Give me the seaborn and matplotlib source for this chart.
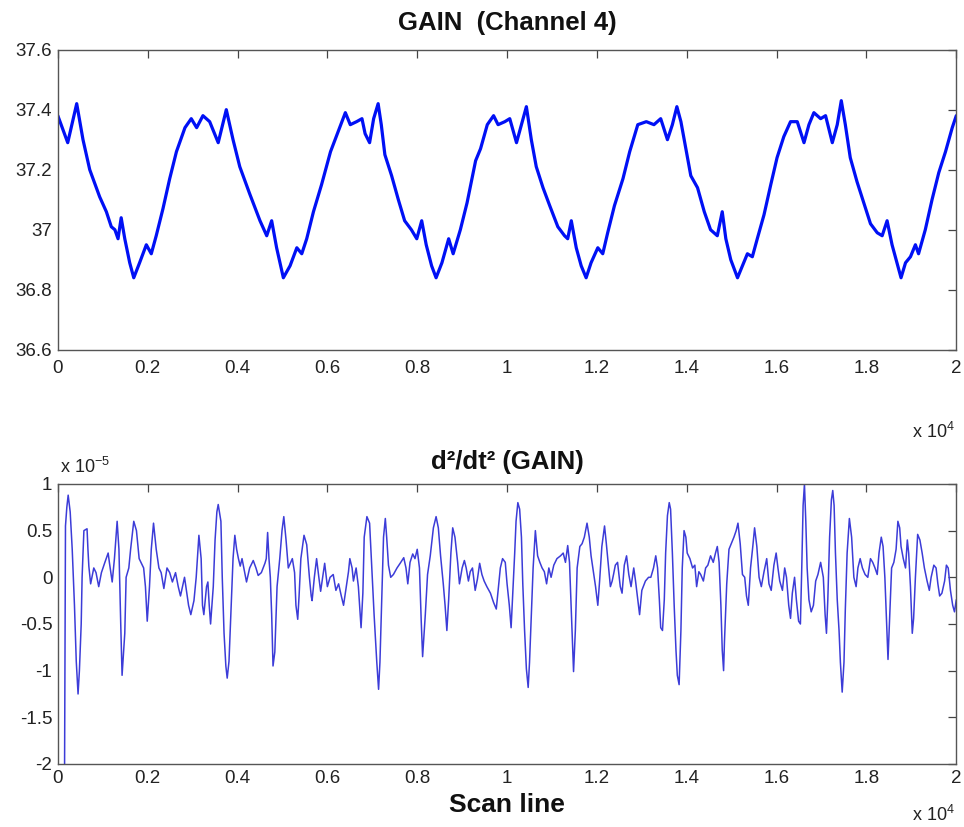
import matplotlib
matplotlib.use("Agg")
import matplotlib.pyplot as plt
import seaborn as sns
import pandas as pd

# ---------------- data (x in units of 10^4 scan lines) ----------------
gain_x = [
    0.000, 0.022, 0.042, 0.056, 0.071, 0.093, 0.108, 0.119, 0.127, 0.134,
    0.141, 0.149, 0.160, 0.169, 0.182, 0.197, 0.208, 0.219, 0.234, 0.249,
    0.264, 0.283, 0.297, 0.309, 0.323, 0.338, 0.357, 0.375, 0.390, 0.405,
    0.427, 0.450, 0.465, 0.476, 0.487, 0.502, 0.517, 0.532, 0.543, 0.554,
    0.569, 0.587, 0.607, 0.630, 0.640, 0.651, 0.665, 0.677, 0.684, 0.694,
    0.703, 0.713, 0.720, 0.728, 0.743, 0.758, 0.772, 0.787, 0.799, 0.810,
    0.820, 0.832, 0.842, 0.855, 0.870, 0.880, 0.896, 0.911, 0.930, 0.941,
    0.956, 0.970, 0.980, 0.995, 1.006, 1.021, 1.032, 1.043, 1.054, 1.065,
    1.080, 1.095, 1.113, 1.128, 1.135, 1.143, 1.154, 1.165, 1.176, 1.187,
    1.202, 1.213, 1.224, 1.239, 1.258, 1.273, 1.291, 1.310, 1.327, 1.342,
    1.357, 1.368, 1.378, 1.387, 1.398, 1.409, 1.424, 1.439, 1.453, 1.468,
    1.479, 1.487, 1.498, 1.513, 1.524, 1.535, 1.546, 1.557, 1.572, 1.587,
    1.601, 1.616, 1.631, 1.646, 1.661, 1.672, 1.683, 1.698, 1.709, 1.724,
    1.735, 1.744, 1.753, 1.764, 1.779, 1.794, 1.809, 1.824, 1.835, 1.846,
    1.857, 1.868, 1.877, 1.887, 1.898, 1.909, 1.916, 1.931, 1.946, 1.961,
    1.976, 1.991, 2.000,
]
gain_y = [
    37.38, 37.29, 37.42, 37.30, 37.20, 37.11, 37.06, 37.01, 37.00, 36.97,
    37.04, 36.97, 36.89, 36.84, 36.89, 36.95, 36.92, 36.98, 37.07, 37.17,
    37.26, 37.34, 37.37, 37.34, 37.38, 37.36, 37.29, 37.40, 37.30, 37.21,
    37.12, 37.03, 36.98, 37.03, 36.94, 36.84, 36.88, 36.94, 36.92, 36.97,
    37.06, 37.15, 37.26, 37.35, 37.39, 37.35, 37.36, 37.37, 37.32, 37.29,
    37.37, 37.42, 37.35, 37.25, 37.18, 37.10, 37.03, 37.00, 36.97, 37.03,
    36.95, 36.88, 36.84, 36.89, 36.97, 36.92, 37.00, 37.09, 37.23, 37.27,
    37.35, 37.38, 37.35, 37.36, 37.37, 37.29, 37.35, 37.41, 37.30, 37.21,
    37.14, 37.08, 37.01, 36.98, 36.97, 37.03, 36.94, 36.88, 36.84, 36.89,
    36.94, 36.92, 36.99, 37.08, 37.17, 37.26, 37.35, 37.36, 37.35, 37.37,
    37.30, 37.35, 37.41, 37.36, 37.27, 37.18, 37.14, 37.06, 37.00, 36.98,
    37.06, 36.97, 36.90, 36.84, 36.88, 36.92, 36.91, 36.97, 37.05, 37.15,
    37.24, 37.31, 37.36, 37.36, 37.29, 37.35, 37.39, 37.37, 37.38, 37.29,
    37.35, 37.43, 37.35, 37.24, 37.16, 37.09, 37.02, 36.99, 36.98, 37.03,
    36.95, 36.89, 36.84, 36.89, 36.91, 36.95, 36.92, 37.00, 37.10, 37.19,
    37.26, 37.34, 37.38,
]

# second derivative (units of 10^-5)
d2_x = [
    0.015, 0.017, 0.020, 0.023, 0.0275, 0.032, 0.037, 0.041, 0.045, 0.048,
    0.052, 0.054, 0.058, 0.065, 0.067, 0.069, 0.073, 0.080, 0.085, 0.091,
    0.097, 0.104, 0.112, 0.115, 0.121, 0.126, 0.132, 0.136, 0.140, 0.143,
    0.149, 0.152, 0.158, 0.162, 0.169, 0.175, 0.181, 0.186, 0.191, 0.195,
    0.199, 0.204, 0.208, 0.213, 0.219, 0.225, 0.230, 0.236, 0.243, 0.249,
    0.255, 0.262, 0.268, 0.273, 0.282, 0.291, 0.296, 0.303, 0.308, 0.314,
    0.319, 0.322, 0.325, 0.331, 0.334, 0.337, 0.340, 0.346, 0.350, 0.354,
    0.357, 0.363, 0.366, 0.370, 0.374, 0.377, 0.381, 0.386, 0.390, 0.394,
    0.398, 0.402, 0.406, 0.410, 0.416, 0.420, 0.427, 0.435, 0.441, 0.446,
    0.453, 0.461, 0.464, 0.467, 0.470, 0.473, 0.476, 0.479, 0.483, 0.488,
    0.494, 0.499, 0.503, 0.508, 0.513, 0.522, 0.527, 0.530, 0.534, 0.537,
    0.541, 0.548, 0.554, 0.560, 0.564, 0.566, 0.571, 0.576, 0.581, 0.585,
    0.594, 0.600, 0.606, 0.613, 0.619, 0.625, 0.631, 0.636, 0.640, 0.647,
    0.650, 0.655, 0.658, 0.664, 0.669, 0.673, 0.675, 0.679, 0.682, 0.688,
    0.694, 0.699, 0.704, 0.710, 0.714, 0.717, 0.721, 0.725, 0.729, 0.732,
    0.736, 0.741, 0.747, 0.755, 0.762, 0.770, 0.775, 0.779, 0.784, 0.790,
    0.795, 0.800, 0.805, 0.809, 0.812, 0.818, 0.823, 0.829, 0.836, 0.842,
    0.847, 0.852, 0.858, 0.862, 0.866, 0.870, 0.875, 0.879, 0.884, 0.890,
    0.894, 0.900, 0.905, 0.909, 0.914, 0.918, 0.923, 0.929, 0.934, 0.939,
    0.944, 0.949, 0.955, 0.963, 0.970, 0.976, 0.981, 0.985, 0.990, 0.996,
    1.000, 1.005, 1.009, 1.012, 1.017, 1.020, 1.024, 1.028, 1.032, 1.035,
    1.039, 1.043, 1.047, 1.050, 1.054, 1.058, 1.063, 1.068, 1.073, 1.078,
    1.083, 1.088, 1.093, 1.098, 1.104, 1.111, 1.119, 1.125, 1.130, 1.135,
    1.139, 1.142, 1.145, 1.148, 1.152, 1.156, 1.162, 1.167, 1.172, 1.178,
    1.183, 1.187, 1.193, 1.197, 1.202, 1.206, 1.211, 1.217, 1.221, 1.226,
    1.230, 1.234, 1.237, 1.241, 1.246, 1.252, 1.256, 1.261, 1.266, 1.271,
    1.276, 1.282, 1.286, 1.291, 1.295, 1.300, 1.308, 1.315, 1.320, 1.326,
    1.331, 1.335, 1.339, 1.342, 1.346, 1.350, 1.353, 1.357, 1.361, 1.364,
    1.368, 1.372, 1.376, 1.379, 1.383, 1.387, 1.390, 1.394, 1.398, 1.401,
    1.407, 1.413, 1.418, 1.422, 1.427, 1.431, 1.437, 1.442, 1.447, 1.453,
    1.459, 1.464, 1.468, 1.472, 1.476, 1.479, 1.482, 1.484, 1.489, 1.494,
    1.499, 1.505, 1.510, 1.514, 1.519, 1.524, 1.529, 1.533, 1.537, 1.542,
    1.547, 1.551, 1.556, 1.561, 1.566, 1.572, 1.578, 1.583, 1.588, 1.594,
    1.599, 1.603, 1.607, 1.613, 1.618, 1.622, 1.627, 1.631, 1.635, 1.640,
    1.644, 1.649, 1.653, 1.656, 1.659, 1.662, 1.665, 1.668, 1.672, 1.677,
    1.682, 1.687, 1.692, 1.698, 1.704, 1.708, 1.711, 1.714, 1.718, 1.722,
    1.725, 1.728, 1.731, 1.735, 1.739, 1.742, 1.746, 1.750, 1.753, 1.757,
    1.762, 1.767, 1.772, 1.777, 1.781, 1.786, 1.791, 1.797, 1.803, 1.809,
    1.814, 1.819, 1.824, 1.828, 1.833, 1.837, 1.841, 1.845, 1.848, 1.852,
    1.856, 1.861, 1.866, 1.870, 1.874, 1.877, 1.882, 1.887, 1.891, 1.894,
    1.898, 1.902, 1.905, 1.909, 1.914, 1.919, 1.924, 1.929, 1.935, 1.940,
    1.944, 1.950, 1.955, 1.959, 1.963, 1.968, 1.974, 1.978, 1.982, 1.987,
    1.992, 1.996, 2.000,
]
d2_y = [
    -2.00, 0.55, 0.75, 0.88, 0.70, 0.30, -0.30, -0.90, -1.25, -1.00,
    -0.50, 0.00, 0.50, 0.52, 0.30, 0.12, -0.07, 0.10, 0.05, -0.10,
    0.05, 0.15, 0.26, 0.15, -0.05, 0.20, 0.60, 0.30, -0.50, -1.05,
    -0.60, 0.00, 0.10, 0.30, 0.60, 0.50, 0.20, 0.15, 0.10, -0.10,
    -0.47, -0.10, 0.30, 0.58, 0.30, 0.10, 0.05, -0.12, 0.10, 0.05,
    -0.05, 0.05, -0.10, -0.20, 0.00, -0.30, -0.40, -0.25, 0.00, 0.45,
    0.20, -0.30, -0.40, -0.10, -0.05, -0.30, -0.50, -0.10, 0.40, 0.70,
    0.78, 0.60, 0.00, -0.60, -0.95, -1.08, -0.90, -0.30, 0.20, 0.45,
    0.30, 0.20, 0.12, 0.20, 0.05, -0.05, 0.10, 0.18, 0.10, 0.02,
    0.05, 0.15, 0.20, 0.48, 0.20, 0.00, -0.40, -0.95, -0.80, -0.10,
    0.20, 0.50, 0.65, 0.40, 0.10, 0.20, 0.05, -0.30, -0.45, -0.20,
    0.20, 0.45, 0.35, 0.00, -0.20, -0.25, 0.00, 0.20, 0.00, -0.15,
    0.15, -0.10, 0.00, 0.03, -0.14, -0.07, -0.20, -0.30, -0.17, 0.06,
    0.20, 0.10, -0.04, 0.10, -0.10, -0.40, -0.54, -0.17, 0.43, 0.65,
    0.58, 0.10, -0.40, -0.91, -1.20, -0.91, -0.24, 0.43, 0.63, 0.43,
    0.13, 0.00, 0.03, 0.10, 0.15, 0.21, 0.10, -0.07, 0.16, 0.25,
    0.20, 0.30, 0.10, -0.48, -0.85, -0.40, 0.03, 0.23, 0.53, 0.65,
    0.53, 0.23, -0.07, -0.30, -0.57, -0.24, 0.26, 0.53, 0.43, 0.16,
    -0.07, 0.10, 0.18, 0.10, -0.04, 0.06, 0.10, -0.14, -0.02, 0.15,
    0.03, -0.04, -0.10, -0.17, -0.27, -0.34, -0.10, 0.10, 0.20, 0.16,
    -0.07, -0.30, -0.54, -0.24, 0.26, 0.60, 0.80, 0.73, 0.43, -0.07,
    -0.57, -0.98, -1.18, -0.91, -0.40, 0.10, 0.50, 0.23, 0.16, 0.10,
    0.06, -0.07, 0.10, 0.00, 0.13, 0.20, 0.23, 0.26, 0.16, 0.34,
    0.16, -0.24, -0.64, -1.01, -0.57, 0.10, 0.33, 0.36, 0.43, 0.58,
    0.43, 0.23, 0.03, -0.10, -0.30, -0.04, 0.33, 0.55, 0.36, 0.10,
    -0.10, -0.04, 0.03, 0.13, 0.16, -0.10, -0.17, 0.13, 0.23, 0.03,
    -0.10, 0.10, -0.04, -0.24, -0.40, -0.14, -0.04, 0.00, 0.00, 0.10,
    0.23, 0.10, -0.24, -0.54, -0.57, -0.24, 0.26, 0.66, 0.80, 0.73,
    0.26, -0.30, -0.78, -1.05, -1.15, -0.57, 0.10, 0.50, 0.43, 0.26,
    0.20, 0.10, 0.13, -0.10, 0.06, 0.03, -0.04, 0.10, 0.13, 0.23,
    0.16, 0.26, 0.33, 0.16, -0.30, -0.78, -1.00, -0.68, -0.07, 0.30,
    0.36, 0.43, 0.50, 0.58, 0.36, 0.03, 0.00, -0.20, -0.30, 0.10,
    0.33, 0.53, 0.33, 0.00, -0.10, 0.06, 0.20, -0.07, -0.14, 0.13,
    0.26, 0.10, -0.04, -0.14, 0.10, 0.00, -0.30, -0.44, -0.17, 0.00,
    -0.24, -0.47, -0.50, 0.10, 0.77, 1.00, 0.60, 0.10, -0.24, -0.37,
    -0.30, -0.04, 0.03, 0.16, 0.00, -0.40, -0.60, -0.24, 0.43, 0.83,
    0.93, 0.77, 0.26, -0.24, -0.57, -0.91, -1.23, -0.91, -0.34, 0.26,
    0.63, 0.43, 0.00, -0.10, 0.10, 0.20, 0.10, 0.03, 0.00, 0.20,
    0.16, 0.10, 0.03, 0.26, 0.43, 0.33, 0.00, -0.50, -0.88, -0.40,
    0.10, 0.16, 0.30, 0.60, 0.53, 0.33, 0.20, 0.10, 0.40, 0.26,
    -0.10, -0.60, -0.44, 0.00, 0.46, 0.40, 0.26, 0.10, -0.04, -0.14,
    0.00, 0.13, 0.10, -0.07, -0.20, -0.17, -0.04, 0.13, 0.10, -0.14,
    -0.30, -0.37, -0.24,
]

x_ticks = [0, 0.2, 0.4, 0.6, 0.8, 1.0, 1.2, 1.4, 1.6, 1.8, 2.0]
x_tick_labels = ["0", "0.2", "0.4", "0.6", "0.8", "1", "1.2", "1.4", "1.6", "1.8", "2"]
gain_ticks = [36.6, 36.8, 37.0, 37.2, 37.4, 37.6]
gain_tick_labels = ["36.6", "36.8", "37", "37.2", "37.4", "37.6"]
d2_ticks = [-2, -1.5, -1, -0.5, 0, 0.5, 1]
d2_tick_labels = ["-2", "-1.5", "-1", "-0.5", "0", "0.5", "1"]

# ---------------- style ----------------
sns.set_theme(style="white")
plt.rcParams["font.family"] = ["Liberation Sans", "DejaVu Sans"]
plt.rcParams["mathtext.fontset"] = "custom"
plt.rcParams["mathtext.rm"] = "Liberation Sans"
plt.rcParams["mathtext.it"] = "Liberation Sans"

fig = plt.figure(figsize=(9.64, 8.27), dpi=100)
ax1 = fig.add_axes([0.060, 0.577, 0.932, 0.363])
ax2 = fig.add_axes([0.060, 0.0762, 0.932, 0.3386])

gain_df = pd.DataFrame({"x": gain_x, "y": gain_y})
d2_df = pd.DataFrame({"x": d2_x, "y": d2_y})

sns.lineplot(data=gain_df, x="x", y="y", ax=ax1, estimator=None, sort=False,
             color="#0010f5", linewidth=2.3)
sns.lineplot(data=d2_df, x="x", y="y", ax=ax2, estimator=None, sort=False,
             color="#3c3cd8", linewidth=1.1)

def style_axes(ax, yticks, ylabels, ylim, xpad):
    ax.set_xlim(0, 2)
    ax.set_ylim(*ylim)
    ax.set_xticks(x_ticks)
    ax.set_xticklabels(x_tick_labels)
    ax.set_yticks(yticks)
    ax.set_yticklabels(ylabels)
    ax.set_xlabel("")
    ax.set_ylabel("")
    ax.tick_params(direction="in", length=6, width=0.9, color="#444444",
                   top=True, right=True, labelsize=13.5, labelcolor="#222222", pad=4)
    ax.tick_params(axis="x", pad=xpad)
    for s in ax.spines.values():
        s.set_visible(True)
        s.set_color("#555555")
        s.set_linewidth(1.0)

style_axes(ax1, gain_ticks, gain_tick_labels, (36.6, 37.6), 7)
style_axes(ax2, d2_ticks, d2_tick_labels, (-2, 1), 4)

ax1.set_title("GAIN  (Channel 4)", fontsize=18.5, fontweight="bold", pad=14, color="#111111")
ax2.set_title("d\u00b2/dt\u00b2 (GAIN)", fontsize=18.5, fontweight="bold", pad=11, color="#111111")
ax2.set_xlabel("Scan line", fontsize=19, fontweight="bold", color="#111111", labelpad=5)

fig.text(0.990, 1 - 432 / 827, r"x 10$^{4}$", ha="right", va="center", fontsize=13, color="#222222")
fig.text(0.990, 1 - 815 / 827, r"x 10$^{4}$", ha="right", va="center", fontsize=13, color="#222222")
fig.text(0.062, 1 - 467 / 827, r"x 10$^{-5}$", ha="left", va="center", fontsize=13, color="#222222")

fig.savefig("out.png", dpi=100, facecolor="white")
